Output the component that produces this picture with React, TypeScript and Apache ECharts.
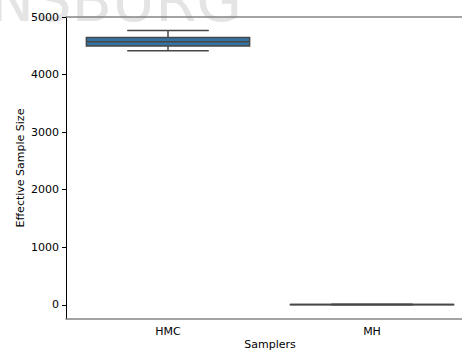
import React, { useEffect, useRef } from "react";
import * as echarts from "echarts";

const categories = ["HMC", "MH"];
// [min, q1, median, q3, max]
const hmcStats = [4415, 4497, 4572, 4644, 4766];
const mhStats = [1, 3, 5, 8, 12];
const yTicks = [0, 1000, 2000, 3000, 4000, 5000];

const FONT = "DejaVu Sans";

export default function App() {
  const ref = useRef<HTMLDivElement>(null);
  useEffect(() => {
    const chart = echarts.init(ref.current!, null, { renderer: "svg" });
    const data = [hmcStats, mhStats].map((s, i) => [i, ...s]);
    chart.setOption({
      animation: false,
      backgroundColor: "#ffffff",
      textStyle: { fontFamily: FONT },
      graphic: [
        {
          type: "text",
          z: -10,
          x: -10,
          y: 30,
          silent: true,
          style: {
            text: "NSBURG",
            font: `normal 59px ${FONT}`,
            fill: "#e4e4e4",
            verticalAlign: "bottom",
          },
        },
        {
          type: "line",
          z: 5,
          shape: { x1: 66, y1: 17, x2: 462, y2: 17 },
          style: { stroke: "#858585", lineWidth: 1.5 },
        },
      ],
      grid: { left: 66, top: 17, right: -12, bottom: 35, outerBoundsMode: "none", containLabel: false },
      xAxis: {
        type: "category",
        data: categories,
        name: "Samplers",
        nameLocation: "middle",
        nameGap: 20,
        nameMoveOverlap: false,
        nameTextStyle: { color: "#000", fontSize: 11, fontFamily: FONT },
        axisLine: { onZero: false, lineStyle: { color: "#858585", width: 1.5 } },
        axisTick: { alignWithLabel: true, length: 4, lineStyle: { color: "#000" } },
        axisLabel: { color: "#000", fontSize: 11, fontFamily: FONT, margin: 7 },
      },
      yAxis: {
        type: "value",
        min: -245,
        max: 5000,
        name: "Effective Sample Size",
        nameLocation: "middle",
        nameGap: 40,
        nameMoveOverlap: false,
        nameTextStyle: { color: "#000", fontSize: 11, fontFamily: FONT },
        splitLine: { show: false },
        axisLine: { show: true, lineStyle: { color: "#000", width: 1 } },
        axisTick: { show: true, length: 4, customValues: yTicks, lineStyle: { color: "#000" } },
        axisLabel: {
          color: "#000",
          fontSize: 11,
          fontFamily: FONT,
          margin: 7,
          customValues: yTicks,
          formatter: (v: number) => String(v),
        },
      },
      series: [
        {
          type: "custom",
          data,
          encode: { x: 0, y: [1, 2, 3, 4, 5] },
          renderItem: (params: any, api: any) => {
            const idx = api.value(0);
            const vmin = api.value(1);
            const q1 = api.value(2);
            const med = api.value(3);
            const q3 = api.value(4);
            const vmax = api.value(5);
            const band = api.size([1, 0])[0];
            const cx = api.coord([idx, med])[0];
            const y = (v: number) => api.coord([idx, v])[1];
            const hw = band * 0.4;
            const cw = band * 0.2;
            const edge = "#474747";
            const lw = 1.5;
            return {
              type: "group",
              children: [
                { type: "line", shape: { x1: cx, y1: y(q3), x2: cx, y2: y(vmax) }, style: { stroke: edge, lineWidth: lw } },
                { type: "line", shape: { x1: cx, y1: y(q1), x2: cx, y2: y(vmin) }, style: { stroke: edge, lineWidth: lw } },
                { type: "line", shape: { x1: cx - cw, y1: y(vmax), x2: cx + cw, y2: y(vmax) }, style: { stroke: edge, lineWidth: lw } },
                { type: "line", shape: { x1: cx - cw, y1: y(vmin), x2: cx + cw, y2: y(vmin) }, style: { stroke: edge, lineWidth: lw } },
                {
                  type: "rect",
                  shape: { x: cx - hw, y: y(q3), width: hw * 2, height: y(q1) - y(q3) },
                  style: { fill: "#3274a1", stroke: edge, lineWidth: lw },
                },
                { type: "line", shape: { x1: cx - hw, y1: y(med), x2: cx + hw, y2: y(med) }, style: { stroke: edge, lineWidth: lw } },
              ],
            };
          },
        },
      ],
    });
    return () => chart.dispose();
  }, []);
  return <div ref={ref} style={{ width: 462, height: 354, position: "absolute", left: 0, top: 0 }} />;
}
